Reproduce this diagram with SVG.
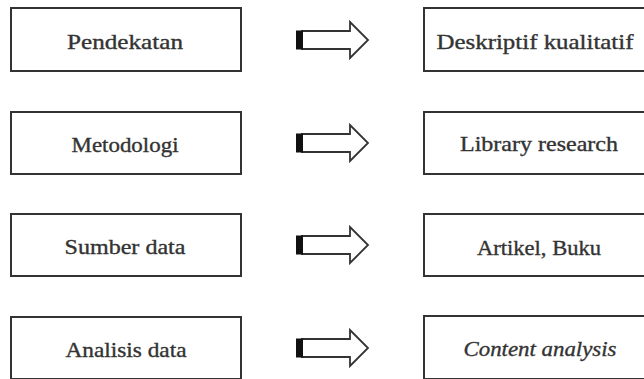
<svg xmlns="http://www.w3.org/2000/svg" width="644" height="379" viewBox="0 0 644 379">
<style>
.box{fill:#fff;stroke:#333;stroke-width:2}
.t{font-family:"Liberation Serif","DejaVu Serif",serif;font-size:21px;fill:#333;stroke:#333;stroke-width:0.35;text-anchor:middle}
.i{font-style:italic}
.arr{fill:#fff;stroke:#333;stroke-width:1.8;stroke-linejoin:miter}
.bar{fill:#111}
</style>
<defs>
<g id="arrow">
<polygon class="arr" points="302,-9 350,-9 350,-18 368,0 350,18 350,9 302,9"/>
<rect class="bar" x="296" y="-9.5" width="7" height="19"/>
</g>
</defs>
<rect width="644" height="379" fill="#fff"/>
<g id="n-pendekatan"><rect class="box" x="11" y="8" width="230" height="63"/><text class="t" x="125" y="49" textLength="116" lengthAdjust="spacingAndGlyphs">Pendekatan</text></g>
<g id="n-metodologi"><rect class="box" x="11" y="112" width="230" height="62"/><text class="t" x="125" y="152" textLength="107" lengthAdjust="spacingAndGlyphs">Metodologi</text></g>
<g id="n-sumber"><rect class="box" x="11" y="214" width="230" height="62"/><text class="t" x="125" y="254" textLength="121" lengthAdjust="spacingAndGlyphs">Sumber data</text></g>
<g id="n-analisis"><rect class="box" x="11" y="317" width="230" height="62"/><text class="t" x="126" y="357" textLength="121" lengthAdjust="spacingAndGlyphs">Analisis data</text></g>
<g id="n-deskriptif"><rect class="box" x="424" y="8" width="240" height="63"/><text class="t" x="535" y="49" textLength="197" lengthAdjust="spacingAndGlyphs">Deskriptif kualitatif</text></g>
<g id="n-library"><rect class="box" x="424" y="112" width="240" height="62"/><text class="t" x="539" y="151" textLength="158" lengthAdjust="spacingAndGlyphs">Library research</text></g>
<g id="n-artikel"><rect class="box" x="424" y="214" width="240" height="62"/><text class="t" x="539" y="255" textLength="124" lengthAdjust="spacingAndGlyphs">Artikel, Buku</text></g>
<g id="n-content"><rect class="box" x="424" y="316" width="240" height="63"/><text class="t i" x="540" y="356" textLength="153" lengthAdjust="spacingAndGlyphs">Content analysis</text></g>
<g id="connectors">
<use href="#arrow" y="40"/>
<use href="#arrow" y="143"/>
<use href="#arrow" y="245"/>
<use href="#arrow" y="348"/>
</g>
</svg>
